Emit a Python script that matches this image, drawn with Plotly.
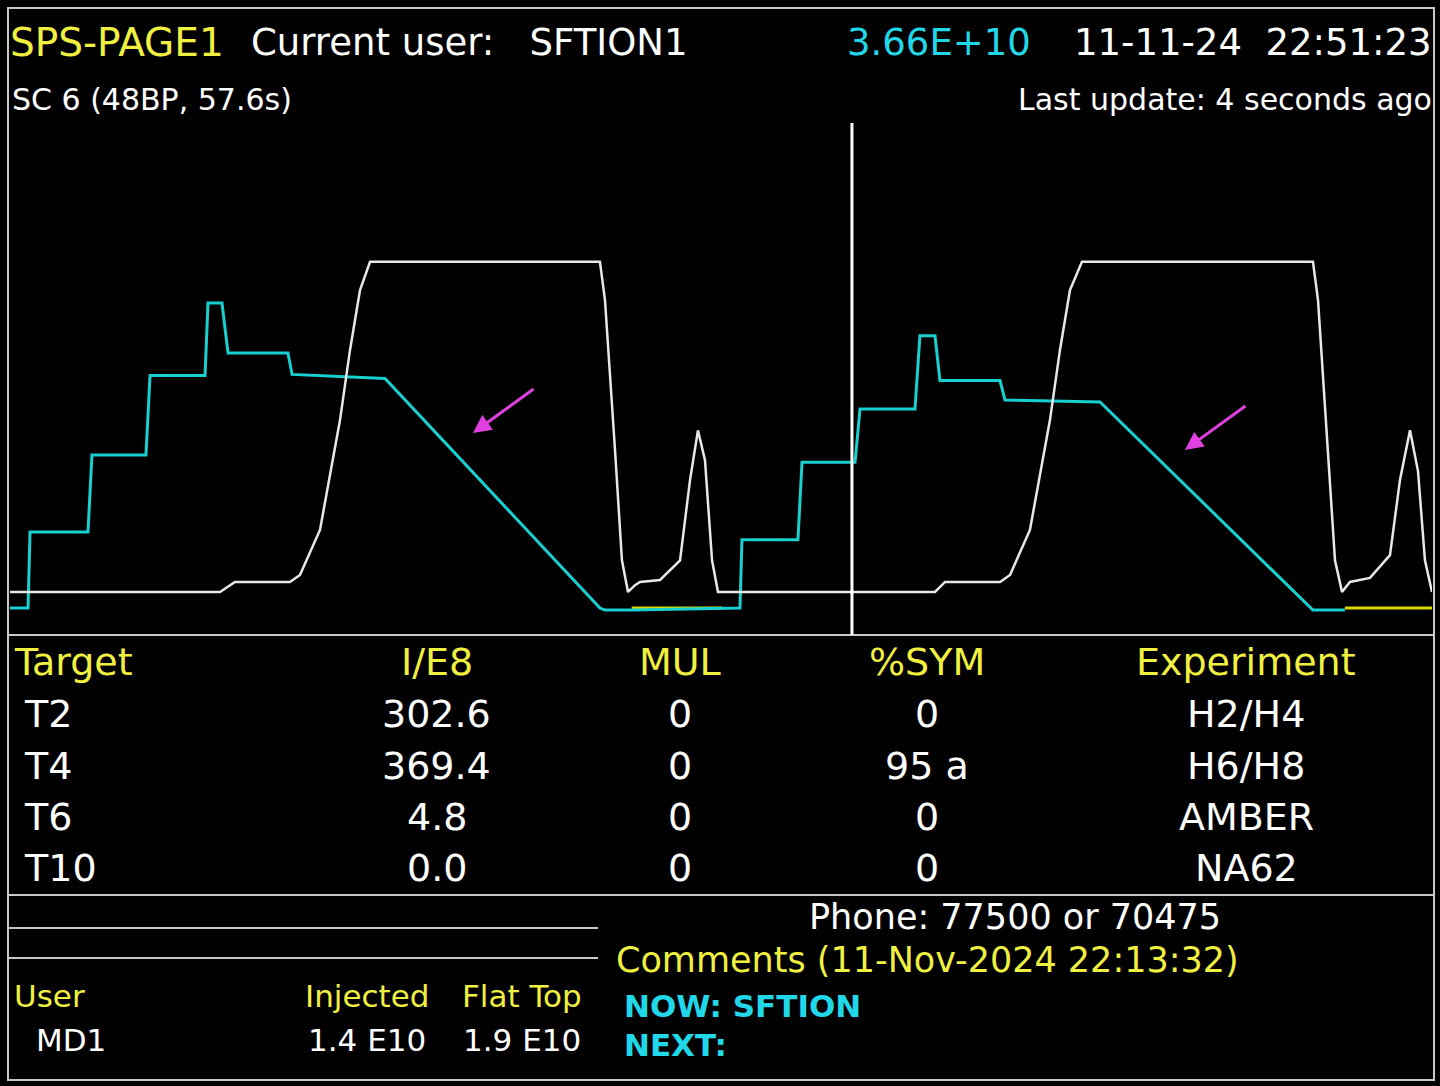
import plotly.graph_objects as go

W, H = 1440, 1086
# ---- data ----
cyan_t = [0, 1.46, 1.62, 6.31, 6.63, 11.0, 11.33, 15.78, 16.02, 17.15, 17.64, 22.49, 22.82, 30.34, 47.73, 48.14, 50.3,
          57.6, 59.06, 59.22, 63.75, 64.08, 68.37, 68.77, 73.22, 73.62, 74.84, 75.24, 80.1, 80.5, 88.19, 105.42, 108.0]
cyan_i = [0, 0, 0.745, 0.745, 1.5, 1.5, 2.28, 2.28, 2.99, 2.99, 2.5, 2.5, 2.29, 2.25, 0, -0.02, -0.02,
          0, 0, 0.67, 0.67, 1.43, 1.43, 1.95, 1.95, 2.67, 2.67, 2.23, 2.23, 2.04, 2.02, -0.02, -0.02]
field_t = [0, 16.99, 18.2, 22.65, 23.46, 25.08, 26.7, 27.51, 28.32, 29.13, 47.73, 48.14, 48.95, 49.51, 50.0, 50.57,
           50.97, 52.59, 54.21, 55.02, 55.66, 56.23, 56.8, 57.28, 74.84, 75.65, 80.1, 80.91, 82.52, 84.14, 84.95,
           85.76, 86.73, 105.42, 105.83, 106.63, 107.2, 107.77, 108.41, 110.03, 111.65, 112.46, 113.27, 113.92,
           114.48, 115.05]
field_gev = [14, 14, 25.7, 25.7, 33.9, 86.5, 215, 297, 367, 400, 400, 355, 180, 51, 14, 22,
             25.7, 28, 51, 145, 203, 168, 51, 14, 14, 25.7, 25.7, 33.9, 86.5, 215, 297,
             367, 400, 400, 355, 180, 51, 14, 25.7, 30.4, 57, 145, 203, 155,
             51, 14]
yellow_t = [[50.3, 57.6], [108.0, 115.05]]
arrow_tips = [(37.46, 1.716), (95.06, 1.55)]
now_t = 68.12

headers = ["Target", "I/E8", "MUL", "%SYM", "Experiment"]
targets = ["T2", "T4", "T6", "T10"]
intens = ["302.6", "369.4", "4.8", "0.0"]
mul = ["0", "0", "0", "0"]
sym = ["0", "95 a", "0", "0"]
experiments = ["H2/H4", "H6/H8", "AMBER", "NA62"]

fig = go.Figure()
for seg in yellow_t:
    fig.add_trace(go.Scatter(x=seg, y=[0, 0], mode="lines", line=dict(color="#d8d800", width=3)))
fig.add_trace(go.Scatter(x=cyan_t, y=cyan_i, mode="lines", line=dict(color="#18d0d0", width=3)))
fig.add_trace(go.Scatter(x=field_t, y=field_gev, yaxis="y2", mode="lines",
                         line=dict(color="#e8e8e8", width=2.5)))

GRAY = "#c8c8c8"
shapes = [
    dict(type="rect", xref="paper", yref="paper", x0=8/W, x1=1434/W, y0=1-1080/H, y1=1-8/H, line=dict(color=GRAY, width=2)),
    dict(type="line", xref="paper", yref="paper", x0=8/W, x1=1434/W, y0=1-635/H, y1=1-635/H, line=dict(color=GRAY, width=2)),
    dict(type="line", xref="paper", yref="paper", x0=8/W, x1=1434/W, y0=1-895/H, y1=1-895/H, line=dict(color=GRAY, width=2)),
    dict(type="line", xref="paper", yref="paper", x0=8/W, x1=598/W, y0=1-928/H, y1=1-928/H, line=dict(color=GRAY, width=2)),
    dict(type="line", xref="paper", yref="paper", x0=8/W, x1=598/W, y0=1-958/H, y1=1-958/H, line=dict(color=GRAY, width=2)),
    dict(type="line", xref="x", yref="paper", x0=now_t, x1=now_t, y0=1-635/H, y1=1-123/H, line=dict(color="white", width=3)),
]

ann = []
for (tx, ty) in arrow_tips:
    ann.append(dict(x=tx, y=ty, xref="x", yref="y", ax=62, ay=-45, showarrow=True, arrowhead=2,
                    arrowsize=1.2, arrowwidth=3, arrowcolor="#e040e0", text=""))

F = "DejaVu Sans"
def T(text, px, py, color="white", size=35, anchor="left", bold=False):
    ann.append(dict(x=px/W, y=1-py/H, xref="paper", yref="paper", text=("<b>%s</b>" % text) if bold else text,
                    showarrow=False, xanchor=anchor, yanchor="middle",
                    font=dict(family=F, size=size, color=color)))

T("SPS-PAGE1", 8, 43, "#f0f040", 39)
T("Current user:   SFTION1", 249, 43, "white", 37)
T("3.66E+10", 845, 43, "#20d8e8", 37)
T("11-11-24  22:51:23", 1434, 43, "white", 37, "right")
T("SC 6 (48BP, 57.6s)", 10, 100, "white", 30)
T("Last update: 4 seconds ago", 1434, 100, "white", 30, "right")

cols = [(12, "left"), (437, "center"), (680, "center"), (927, "center"), (1246, "center")]
for h, (cx, a) in zip(headers, cols):
    T(h, cx, 662, "#f0f040", 38, a)
rows_y = [714, 766, 817, 868]
for i, ry in enumerate(rows_y):
    T(targets[i], 22, ry, "white", 38)
    T(intens[i], 437, ry, "white", 38, "center")
    T(mul[i], 680, ry, "white", 38, "center")
    T(sym[i], 927, ry, "white", 38, "center")
    T(experiments[i], 1246, ry, "white", 38, "center")

T("Phone: 77500 or 70475", 1015, 917, "white", 35, "center")
T("Comments (11-Nov-2024 22:13:32)", 614, 960, "#f0f040", 35)
T("NOW: SFTION", 622, 1006, "#20d8e8", 31, bold=True)
T("NEXT:", 622, 1045, "#20d8e8", 31, bold=True)
T("User", 12, 996, "#f0f040", 31)
T("Injected", 367, 996, "#f0f040", 31, "center")
T("Flat Top", 522, 996, "#f0f040", 31, "center")
T("MD1", 34, 1040, "white", 31)
T("1.4 E10", 367, 1040, "white", 31, "center")
T("1.9 E10", 522, 1040, "white", 31, "center")

fig.update_layout(
    width=W, height=H, margin=dict(l=0, r=0, t=0, b=0),
    paper_bgcolor="black", plot_bgcolor="black", showlegend=False,
    xaxis=dict(domain=[10/W, 1432/W], range=[0, 115.05], visible=False, fixedrange=True),
    yaxis=dict(domain=[1-632/H, 1-125/H], range=[-0.235, 4.735], visible=False),
    yaxis2=dict(overlaying="y", range=[-32.8, 560], visible=False),
    shapes=shapes, annotations=ann,
)
fig.write_html("out.html", config={"displayModeBar": False},
               post_script="document.body.style.margin='0';document.body.style.background='black';")
